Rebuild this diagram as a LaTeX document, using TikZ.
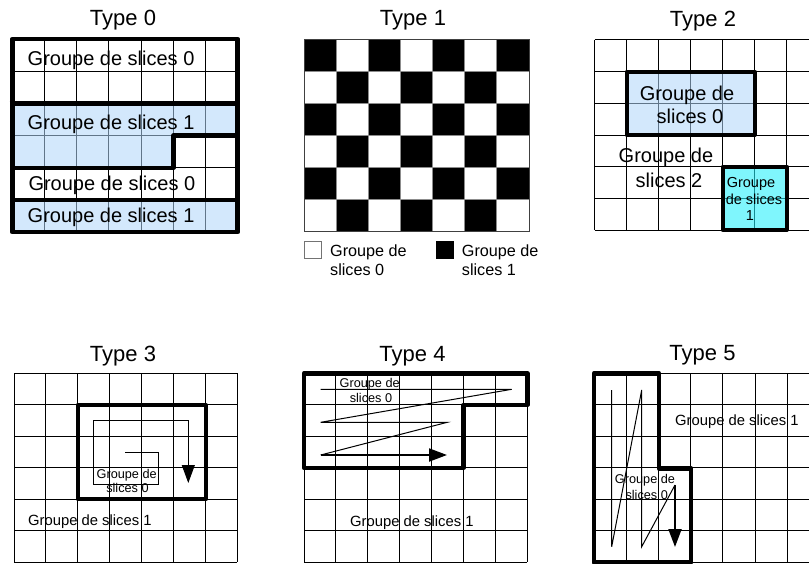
\documentclass[tikz,border=0pt]{standalone}
\usepackage{fontspec}
\setmainfont{Liberation Sans}
\usetikzlibrary{arrows.meta}
\definecolor{blueA}{RGB}{176,214,250}
\definecolor{cyanA}{RGB}{35,241,253}
\tikzset{
  gridline/.style={line width=1pt, black},
  chkline/.style={line width=1pt, black!45},
  heavy/.style={line width=4.5pt, line join=round, line cap=round},
  ttl/.style={font=\fontsize{22}{26}\selectfont, anchor=base, inner sep=0pt},
  bigtxt/.style={font=\fontsize{20}{24}\selectfont, inner sep=0pt},
  midtxt/.style={font=\fontsize{14.8}{18}\selectfont, inner sep=0pt},
  legtxt/.style={font=\fontsize{16.2}{19}\selectfont, inner sep=0pt, anchor=base west},
  smalltxt/.style={font=\fontsize{12.7}{15}\selectfont, inner sep=0pt, anchor=base},
  tinytxt/.style={font=\fontsize{14.5}{17}\selectfont, inner sep=0pt, anchor=base},
  zig/.style={line width=1pt, black},
  tip/.style={-{Triangle[length=18pt,width=13pt]}},
}
\begin{document}
\begin{tikzpicture}[x=1pt,y=-1pt]
\fill[white] (0,0) rectangle (809,564);
\useasboundingbox (0,0) rectangle (809,564);

% ================= Type 0 =================
\node[ttl] (t0) at (123,26) {Type 0};
\foreach \i in {0,...,7} \draw[gridline] ({12.3+\i*32.2},39) -- ({12.3+\i*32.2},232.2);
\foreach \j in {0,...,6} \draw[gridline] (12.3,{39+\j*32.2}) -- (237.7,{39+\j*32.2});
\fill[blueA, opacity=0.55] (12.3,103.4) -- (237.7,103.4) -- (237.7,135.6) -- (173.3,135.6) -- (173.3,167.8) -- (12.3,167.8) -- cycle;
\fill[blueA, opacity=0.55] (12.3,200) rectangle (237.7,232.2);
\draw[heavy] (12.3,39) rectangle (237.7,232.2);
\draw[heavy, line cap=butt] (9.5,103.4) -- (237.7,103.4);
\draw[heavy] (237.7,135.6) -- (173.3,135.6) -- (173.3,167.8) -- (12.3,167.8);
\draw[heavy] (12.3,200) -- (237.7,200);
\node[bigtxt, anchor=base west] (g00) at (27.5,66) {Groupe de slices 0};
\node[bigtxt, anchor=base west] (g01) at (27.5,129.3) {Groupe de slices 1};
\node[bigtxt, anchor=base west] (g02) at (28.3,191) {Groupe de slices 0};
\node[bigtxt, anchor=base west] (g03) at (27.5,222.6) {Groupe de slices 1};

% ================= Type 1 =================
\node[ttl] (t1) at (413,26) {Type 1};
\foreach \i in {0,...,6} \foreach \j in {0,...,5} {
  \pgfmathtruncatemacro\k{mod(\i+\j,2)}
  \ifnum\k=0 \fill[black] ({304+\i*32.15},{39.3+\j*32.07}) rectangle ++(32.15,32.07); \fi
}
\foreach \i in {1,...,6} \draw[chkline] ({304+\i*32.15},39.3) -- ({304+\i*32.15},231.7);
\foreach \j in {1,...,5} \draw[chkline] (304,{39.3+\j*32.07}) -- (529,{39.3+\j*32.07});
\draw[line width=1pt, black!75] (304,39.3) rectangle (529,231.7);
\node[draw=black!55, line width=1pt, fill=white, minimum size=16.6pt, inner sep=0pt] (lb0) at (312.8,250) {};
\node[legtxt] (l0a) at (330,257) {Groupe de};
\node[legtxt] (l0b) at (330,275.3) {slices 0};
\node[draw=black, fill=black, minimum size=16.6pt, inner sep=0pt] (lb1) at (444.5,250) {};
\node[legtxt] (l1a) at (461.7,257) {Groupe de};
\node[legtxt] (l1b) at (461.7,275.3) {slices 1};

% ================= Type 2 =================
\node[ttl] (t2) at (703,26.5) {Type 2};
\foreach \i in {0,...,6} \draw[gridline] ({594.7+\i*32},40) -- ({594.7+\i*32},230);
\foreach \j in {0,...,6} \draw[gridline] (594.7,{40+\j*31.67}) -- (809,{40+\j*31.67});
\fill[blueA, opacity=0.55] (626.7,71.7) rectangle (754.7,135);
\fill[cyanA, opacity=0.58] (722.7,166.7) rectangle (786.7,230);
\draw[heavy, line width=4pt] (626.7,71.7) rectangle (754.7,135);
\draw[heavy, line width=4pt] (722.7,166.7) rectangle (786.7,230);
\node[bigtxt, anchor=base] (g20a) at (687,101) {Groupe de};
\node[bigtxt, anchor=base] (g20b) at (690,124) {slices 0};
\node[bigtxt, anchor=base] (g22a) at (666,163) {Groupe de};
\node[bigtxt, anchor=base] (g22b) at (669,187.5) {slices 2};
\node[tinytxt] (g21a) at (751,188) {Groupe};
\node[tinytxt] (g21b) at (754,205) {de slices};
\node[tinytxt] (g21c) at (750,221) {1};

% ================= Type 3 =================
\node[ttl] (t3) at (123,361.5) {Type 3};
\foreach \i in {0,...,7} \draw[gridline] ({14+\i*31.9},373.3) -- ({14+\i*31.9},562.3);
\foreach \j in {0,...,6} \draw[gridline] (14,{373.3+\j*31.5}) -- (237.3,{373.3+\j*31.5});
\draw[heavy, line width=4pt] (77.8,404.8) rectangle (205.6,499.3);
\coordinate (s3a) at (125,452.3);
\coordinate (s3b) at (188.3,483);
\draw[zig, tip] (s3a) -- (158.3,452.3) -- (158.3,484) -- (93.3,484) -- (93.3,420.7) -- (188.3,420.7) -- (s3b);
\node[smalltxt] (g30a) at (126.7,478) {Groupe de};
\node[smalltxt] (g30b) at (127.5,492) {slices 0};
\node[midtxt, anchor=base west] (g31) at (28,525.5) {Groupe de slices 1};

% ================= Type 4 =================
\node[ttl] (t4) at (412.5,361.5) {Type 4};
\foreach \i in {0,...,7} \draw[gridline] ({304+\i*31.9},373.3) -- ({304+\i*31.9},562.3);
\foreach \j in {0,...,6} \draw[gridline] (304,{373.3+\j*31.5}) -- (527.3,{373.3+\j*31.5});
\draw[heavy] (304,373.3) -- (527.3,373.3) -- (527.3,404.8) -- (463.5,404.8) -- (463.5,467.8) -- (304,467.8) -- cycle;
\coordinate (s4a) at (320.7,389.3);
\coordinate (s4b) at (320.7,455);
\coordinate (s4c) at (447,455);
\draw[zig] (s4a) -- (511.7,389.3) -- (320.7,422.3) -- (447.3,422.3) -- (s4b);
\draw[zig, line width=2pt, tip] (s4b) -- (s4c);
\node[smalltxt] (g40a) at (369.7,387.5) {Groupe de};
\node[smalltxt] (g40b) at (371,402.5) {slices 0};
\node[midtxt, anchor=base west] (g41) at (350,526.5) {Groupe de slices 1};

% ================= Type 5 =================
\node[ttl] (t5) at (702.5,360) {Type 5};
\foreach \i in {0,...,6} \draw[gridline] ({594+\i*32.2},373.3) -- ({594+\i*32.2},562.3);
\foreach \j in {0,...,6} \draw[gridline] (594,{373.3+\j*31.5}) -- (809,{373.3+\j*31.5});
\draw[heavy] (594,373.3) -- (659,373.3) -- (659,468.3) -- (691,468.3) -- (691,562.3) -- (594,562.3) -- cycle;
\coordinate (s5a) at (611.7,390);
\coordinate (s5b) at (675,485);
\coordinate (s5c) at (675,547);
\draw[zig] (s5a) -- (611.7,546.7) -- (641.7,390) -- (641.7,546.7) -- (s5b);
\draw[zig, line width=2pt, tip] (s5b) -- (s5c);
\node[smalltxt] (g50a) at (645,483) {Groupe de};
\node[smalltxt] (g50b) at (646.7,499.5) {slices 0};
\node[midtxt, anchor=base west] (g51) at (675,425) {Groupe de slices 1};
\end{tikzpicture}
\end{document}
